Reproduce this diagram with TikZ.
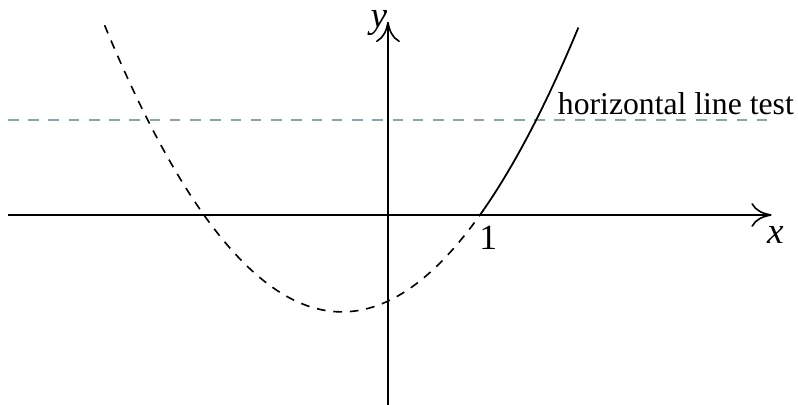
\documentclass[tikz,border=0pt]{standalone}
\usepackage{fontspec}
\setmainfont{Liberation Serif}
\usepackage{tikz}
\usetikzlibrary{arrows.meta}
\tikzset{
  axisline/.style={-{To[length=2.2mm,width=2.6mm]}, line width=0.5pt},
  axislabel/.style={font=\fontsize{11.5}{14}\selectfont\itshape, inner sep=1pt},
  curvehidden/.style={dash pattern=on 0.95mm off 0.85mm, line width=0.5pt},
  curvekept/.style={line width=0.55pt},
  testline/.style={dash pattern=on 1.15mm off 1.05mm, line width=0.5pt, draw=testgray},
  testlabel/.style={font=\fontsize{9.8}{12}\selectfont, inner sep=1pt}
}
\definecolor{testgray}{RGB}{135,165,175}

\begin{document}
\begin{tikzpicture}
\useasboundingbox (-4.217,-2.065) rectangle (4.457,2.337);
\coordinate (xstart) at (-4.13,0);
\coordinate (xend) at (4.17,0);
\coordinate (ystart) at (0,-2.07);
\coordinate (yend) at (0,2.1);
\coordinate (hstart) at (-4.13,1.03);
\coordinate (hend) at (4.15,1.03);
\draw[testline] (hstart) -- (hend);
\draw[axisline] (xstart) -- (xend);
\draw[axisline] (ystart) -- (yend);
\node[axislabel] (xlabel) at (4.21,-0.22) {x};
\node[axislabel] (ylabel) at (-0.1,2.09) {y};
\node[font=\fontsize{11}{13}\selectfont, inner sep=1pt] (one) at (1.09,-0.25) {1};
\node[testlabel] (testtext) at (3.13,1.21) {horizontal line test};
\draw[curvehidden] plot[domain=-3.08:1, samples=80, smooth] (\x,{0.468*(\x-1)*(\x+2)});
\draw[curvekept] plot[domain=1:2.07, samples=30, smooth] (\x,{0.468*(\x-1)*(\x+2)});
\end{tikzpicture}
\end{document}
